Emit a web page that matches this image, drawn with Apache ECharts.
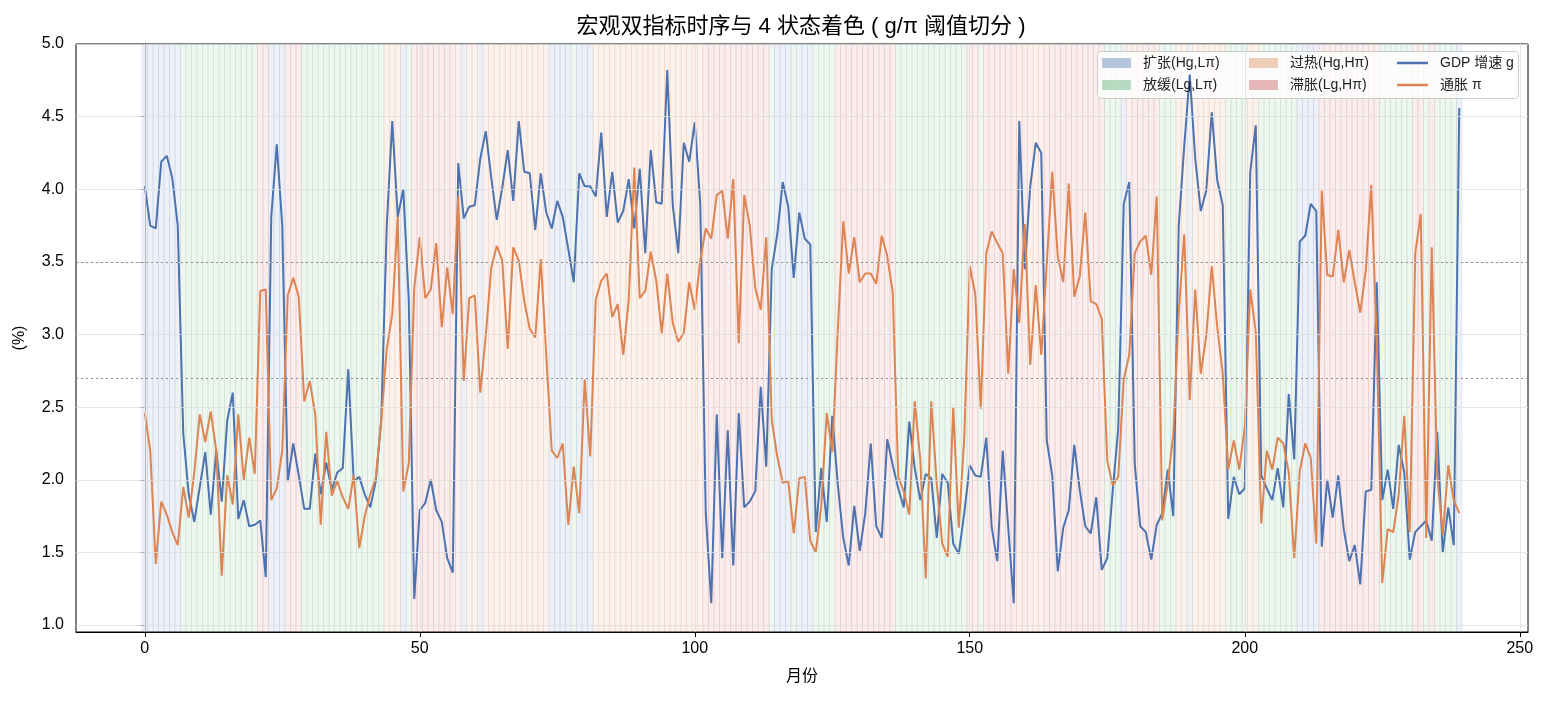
<!DOCTYPE html>
<html>
<head>
<meta charset="utf-8">
<title>宏观双指标时序</title>
<script src="https://cdn.jsdelivr.net/npm/echarts@6/dist/echarts.min.js"></script>
<style>
html,body{margin:0;padding:0;background:#fff;}
#main{width:1545px;height:701px;}
</style>
</head>
<body>
<div id="main"></div>
<script>
// GDP 增速 g（按月，0..239）
var gdp = [
4.02,3.75,3.73,4.19,4.23,4.08,3.75,2.32,1.90,1.71,
1.95,2.19,1.76,2.20,1.85,2.41,2.60,1.73,1.86,1.68,
1.69,1.72,1.33,3.81,4.31,3.75,1.99,2.25,2.03,1.80,
1.80,2.18,1.90,2.12,1.93,2.05,2.08,2.76,1.99,2.02,
1.90,1.81,1.99,2.41,3.75,4.47,3.81,4.00,3.24,1.18,
1.79,1.84,2.00,1.79,1.71,1.46,1.36,4.18,3.80,3.88,
3.89,4.21,4.40,4.08,3.79,4.01,4.27,3.92,4.47,4.12,
4.11,3.72,4.11,3.84,3.73,3.92,3.81,3.59,3.36,4.11,
4.02,4.02,3.95,4.39,3.81,4.12,3.77,3.85,4.07,3.73,
4.14,3.56,4.27,3.91,3.90,4.82,3.89,3.56,4.32,4.19,
4.46,3.90,1.77,1.15,2.45,1.46,2.34,1.41,2.46,1.81,
1.85,1.92,2.64,2.09,3.45,3.69,4.05,3.88,3.39,3.84,
3.66,3.62,1.64,2.08,1.71,2.44,1.97,1.60,1.41,1.82,
1.51,1.77,2.25,1.68,1.60,2.28,2.10,1.94,1.81,2.40,
2.08,1.86,2.04,2.01,1.60,2.04,1.98,1.56,1.49,1.77,
2.10,2.03,2.02,2.29,1.67,1.44,2.20,1.67,1.15,4.47,
3.45,4.02,4.32,4.25,2.27,2.03,1.37,1.67,1.79,2.24,
1.93,1.68,1.63,1.88,1.38,1.46,1.93,2.35,3.90,4.05,
2.11,1.68,1.64,1.45,1.69,1.77,2.07,1.75,3.75,4.30,
4.79,4.21,3.85,3.99,4.53,4.06,3.89,1.73,2.02,1.90,
1.94,4.12,4.44,2.03,1.94,1.86,2.08,1.81,2.59,2.14,
3.64,3.68,3.90,3.85,1.54,2.00,1.74,2.03,1.66,1.44,
1.55,1.28,1.92,1.93,3.36,1.86,2.07,1.80,2.24,2.05,
1.45,1.64,1.68,1.72,1.58,2.33,1.50,1.81,1.55,4.56
];
// 通胀 π
var infl = [
2.46,2.20,1.42,1.85,1.76,1.64,1.55,1.95,1.74,2.05,
2.45,2.26,2.47,2.20,1.34,2.03,1.83,2.45,2.00,2.29,
2.04,3.30,3.31,1.86,1.94,2.20,3.27,3.39,3.26,2.54,
2.68,2.45,1.69,2.33,1.89,1.99,1.88,1.80,2.03,1.53,
1.75,1.90,2.01,2.41,2.90,3.14,3.81,1.92,2.11,3.32,
3.67,3.25,3.31,3.63,3.05,3.46,3.14,3.95,2.68,3.25,
3.27,2.60,2.99,3.46,3.61,3.51,2.90,3.60,3.51,3.23,
3.04,2.98,3.52,2.86,2.20,2.15,2.25,1.69,2.09,1.77,
2.69,2.16,3.24,3.37,3.42,3.12,3.21,2.86,3.24,4.15,
3.25,3.30,3.57,3.37,3.01,3.42,3.08,2.95,3.01,3.36,
3.17,3.51,3.73,3.66,3.96,3.99,3.66,4.07,2.94,3.96,
3.75,3.32,3.17,3.67,2.41,2.16,1.98,1.99,1.63,2.01,
2.02,1.58,1.50,1.82,2.46,2.19,3.02,3.78,3.42,3.67,
3.36,3.42,3.42,3.35,3.68,3.54,3.29,2.02,1.92,1.76,
2.54,2.14,1.32,2.54,1.97,1.56,1.47,2.50,1.67,2.29,
3.47,3.28,2.49,3.56,3.71,3.63,3.56,2.73,3.45,3.08,
3.76,2.79,3.34,2.86,3.49,4.12,3.54,3.36,4.04,3.26,
3.40,3.84,3.23,3.21,3.11,2.13,1.96,2.02,2.69,2.86,
3.56,3.64,3.68,3.41,3.95,1.72,1.98,2.31,3.15,3.69,
2.55,3.31,2.73,2.99,3.47,3.05,2.73,2.07,2.27,2.07,
2.36,3.31,3.02,1.70,2.20,2.07,2.29,2.25,2.05,1.46,
2.06,2.25,2.15,1.56,3.99,3.41,3.40,3.72,3.36,3.58,
3.36,3.15,3.44,4.03,2.95,1.29,1.66,1.64,1.90,2.44,
1.64,3.56,3.83,1.60,3.60,2.03,1.62,2.10,1.86,1.77
];
// 阈值
var gThr = 3.5;
var piThr = 2.7;
// 刻度
var xTicks = [0, 50, 100, 150, 200, 250];
var yTicks = [1.0, 1.5, 2.0, 2.5, 3.0, 3.5, 4.0, 4.5, 5.0];
// 状态名
var stateNames = ['扩张(Hg,Lπ)', '放缓(Lg,Lπ)', '过热(Hg,Hπ)', '滞胀(Lg,Hπ)'];
var stateRGB = ['76,114,176', '85,168,104', '221,132,82', '196,78,82'];

function getState(i) {
    var hg = gdp[i] >= gThr;
    var hp = infl[i] >= piThr;
    if (hg && !hp) return 0;
    if (!hg && !hp) return 1;
    if (hg && hp) return 2;
    return 3;
}

// 每个月一个色块（带同色描边，相邻处会叠出细条纹）
var areas = [];
for (let i = 0; i < gdp.length; i++) {
    var c = 'rgba(' + stateRGB[getState(i)] + ',0.1)';
    areas.push([
        {xAxis: i - 0.5, itemStyle: {color: c, borderColor: c, borderWidth: 1}},
        {xAxis: i + 0.5}
    ]);
}

// 网格线和阈值线
var gridLines = [];
yTicks.forEach(function (v) {
    gridLines.push({yAxis: v, lineStyle: {color: '#dedede', width: 0.8, type: 'solid'}});
});
xTicks.forEach(function (v) {
    gridLines.push({xAxis: v, lineStyle: {color: '#dedede', width: 0.8, type: 'solid'}});
});
[gThr, piThr].forEach(function (v) {
    gridLines.push({yAxis: v, lineStyle: {color: '#8c8c8c', width: 1.2, type: [2, 3]}});
});

var gData = gdp.map(function (v, i) { return [i, v]; });
var pData = infl.map(function (v, i) { return [i, v]; });

var font = "'Liberation Sans', 'Noto Sans CJK SC', sans-serif";

var series = [{
    name: 'bg',
    type: 'line',
    data: [],
    z: 1,
    silent: true,
    markArea: {silent: true, data: areas},
    markLine: {silent: true, symbol: 'none', label: {show: false}, data: gridLines}
}];
stateNames.forEach(function (n, k) {
    series.push({
        name: n,
        type: 'line',
        data: [],
        itemStyle: {color: 'rgba(' + stateRGB[k] + ',0.4)'},
        lineStyle: {color: 'rgba(' + stateRGB[k] + ',0.4)'}
    });
});
series.push({
    name: 'GDP 增速 g',
    type: 'line',
    data: gData,
    z: 3,
    showSymbol: false,
    itemStyle: {color: '#4C72B0'},
    lineStyle: {color: '#4C72B0', width: 2}
});
series.push({
    name: '通胀 π',
    type: 'line',
    data: pData,
    z: 3,
    showSymbol: false,
    itemStyle: {color: '#DD8452'},
    lineStyle: {color: '#DD8452', width: 2}
});

var legendBase = {
    orient: 'vertical',
    top: 55,
    padding: 0,
    itemGap: 6,
    itemWidth: 29,
    itemHeight: 10,
    icon: 'rect',
    selectedMode: false,
    textStyle: {fontSize: 14, color: '#222', fontFamily: font, lineHeight: 16, padding: [0, 0, 0, 7]}
};

var myChart = echarts.init(document.getElementById('main'));
var option = {
    animation: false,
    textStyle: {fontFamily: font},
    title: {
        text: '宏观双指标时序与 4 状态着色 ( g/π 阈值切分 )',
        left: 796,
        textAlign: 'center',
        top: 11,
        textStyle: {fontSize: 22, fontWeight: 'normal', color: '#000', fontFamily: font}
    },
    graphic: [{
        type: 'rect',
        left: 1097,
        top: 51,
        z: 3,
        shape: {width: 421, height: 47, r: 3},
        style: {fill: 'rgba(255,255,255,0.8)', stroke: '#cccccc', lineWidth: 1}
    }],
    legend: [
        Object.assign({}, legendBase, {left: 1102, data: [stateNames[0], stateNames[1]]}),
        Object.assign({}, legendBase, {left: 1249, data: [stateNames[2], stateNames[3]]}),
        Object.assign({}, legendBase, {left: 1397, itemWidth: 31, itemHeight: 2.5, data: ['GDP 增速 g', '通胀 π']})
    ],
    grid: {
        left: 76, right: 17, top: 44, bottom: 69,
        show: true, borderColor: '#000', borderWidth: 1
    },
    xAxis: {
        type: 'value',
        min: -12.5,
        max: 251.5,
        name: '月份',
        nameLocation: 'middle',
        nameGap: 37,
        nameTextStyle: {fontSize: 16, color: '#000', fontFamily: font},
        axisLine: {show: true, onZero: false, lineStyle: {color: '#000'}},
        axisTick: {show: true, length: 5, customValues: xTicks, lineStyle: {color: '#000'}},
        axisLabel: {customValues: xTicks, fontSize: 16, color: '#000', margin: 9},
        splitLine: {show: false}
    },
    yAxis: {
        type: 'value',
        min: 0.952,
        max: 5.0,
        name: '(%)',
        nameLocation: 'middle',
        nameGap: 48,
        nameTextStyle: {fontSize: 16, color: '#000', fontFamily: font},
        axisLine: {show: true, lineStyle: {color: '#000'}},
        axisTick: {show: true, length: 5, customValues: yTicks, lineStyle: {color: '#000'}},
        axisLabel: {
            customValues: yTicks, fontSize: 16, color: '#000', margin: 12,
            formatter: function (v) { return v.toFixed(1); }
        },
        splitLine: {show: false}
    },
    series: series
};
myChart.setOption(option);
</script>
</body>
</html>
